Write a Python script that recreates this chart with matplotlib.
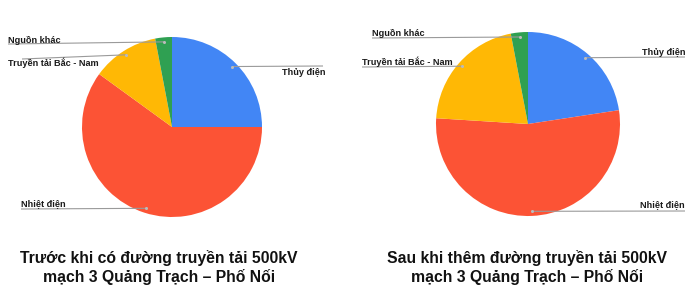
import numpy as np
import matplotlib
matplotlib.use("Agg")
import matplotlib.pyplot as plt

# ---- data ----
categories = ["Thủy điện", "Nhiệt điện", "Truyền tải Bắc - Nam", "Nguồn khác"]
before_values = [25, 60, 12, 3]
after_values = [22.6, 53.4, 21, 3]
titles = [
    ["Trước khi có đường truyền tải 500kV", "mạch 3 Quảng Trạch – Phố Nối"],
    ["Sau khi thêm đường truyền tải 500kV", "mạch 3 Quảng Trạch – Phố Nối"],
]

# ---- style ----
colors = ["#4286F5", "#FC5335", "#FFB805", "#2FA052"]
W, H = 700, 302
plt.rcParams['font.family'] = ['Liberation Sans', 'DejaVu Sans']

fig = plt.figure(figsize=(W / 100, H / 100), dpi=100)
ax = fig.add_axes([0, 0, 1, 1])

def Y(y):
    return H - y

# layout per chart: center, radius, label layout (text x, baseline y, ha, line x-end, line y)
charts = [
    dict(values=before_values, center=(172, 127), r=90,
         labels=[
             dict(tx=325, ty=75, ha="right", lx=323, ly=66),
             dict(tx=21, ty=206, ha="left", lx=21, ly=209),
             dict(tx=8, ty=66, ha="left", lx=22, ly=59),
             dict(tx=8, ty=43, ha="left", lx=8, ly=44),
         ],
         title_x=159),
    dict(values=after_values, center=(528, 124), r=92,
         labels=[
             dict(tx=685, ty=55, ha="right", lx=685, ly=57),
             dict(tx=685, ty=207, ha="right", lx=685, ly=211),
             dict(tx=362, ty=65, ha="left", lx=362, ly=67),
             dict(tx=372, ty=36, ha="left", lx=372, ly=38),
         ],
         title_x=527),
]

for ch, ttl in zip(charts, titles):
    cx, cy = ch["center"]
    r = ch["r"]
    wedges, _ = ax.pie(ch["values"], colors=colors, startangle=90,
                       counterclock=False, center=(cx, Y(cy)), radius=r,
                       wedgeprops=dict(linewidth=0))
    for w, lab, name in zip(wedges, ch["labels"], categories):
        mid = np.deg2rad((w.theta1 + w.theta2) / 2)
        px = cx + 0.95 * r * np.cos(mid)
        py = Y(cy) + 0.95 * r * np.sin(mid)
        ax.plot([lab["lx"], px], [Y(lab["ly"]), py], color="#9a9a9a",
                lw=0.8, solid_capstyle="butt", zorder=3)
        ax.plot([px], [py], marker="o", ms=1.2, color="#bbbbbb", zorder=4)
        ax.text(lab["tx"], Y(lab["ty"]), name, ha=lab["ha"], va="baseline",
                fontsize=6.6, fontweight="bold", color="#1a1a1a", zorder=5)
    ax.text(ch["title_x"], Y(263), ttl[0], ha="center", va="baseline",
            fontsize=11.3, fontweight="bold", color="#111111")
    ax.text(ch["title_x"], Y(282), ttl[1], ha="center", va="baseline",
            fontsize=11.3, fontweight="bold", color="#111111")

ax.set_xlim(0, W)
ax.set_ylim(0, H)
ax.set_aspect("auto")
ax.axis("off")
fig.savefig("out.png", dpi=100, facecolor="white")
